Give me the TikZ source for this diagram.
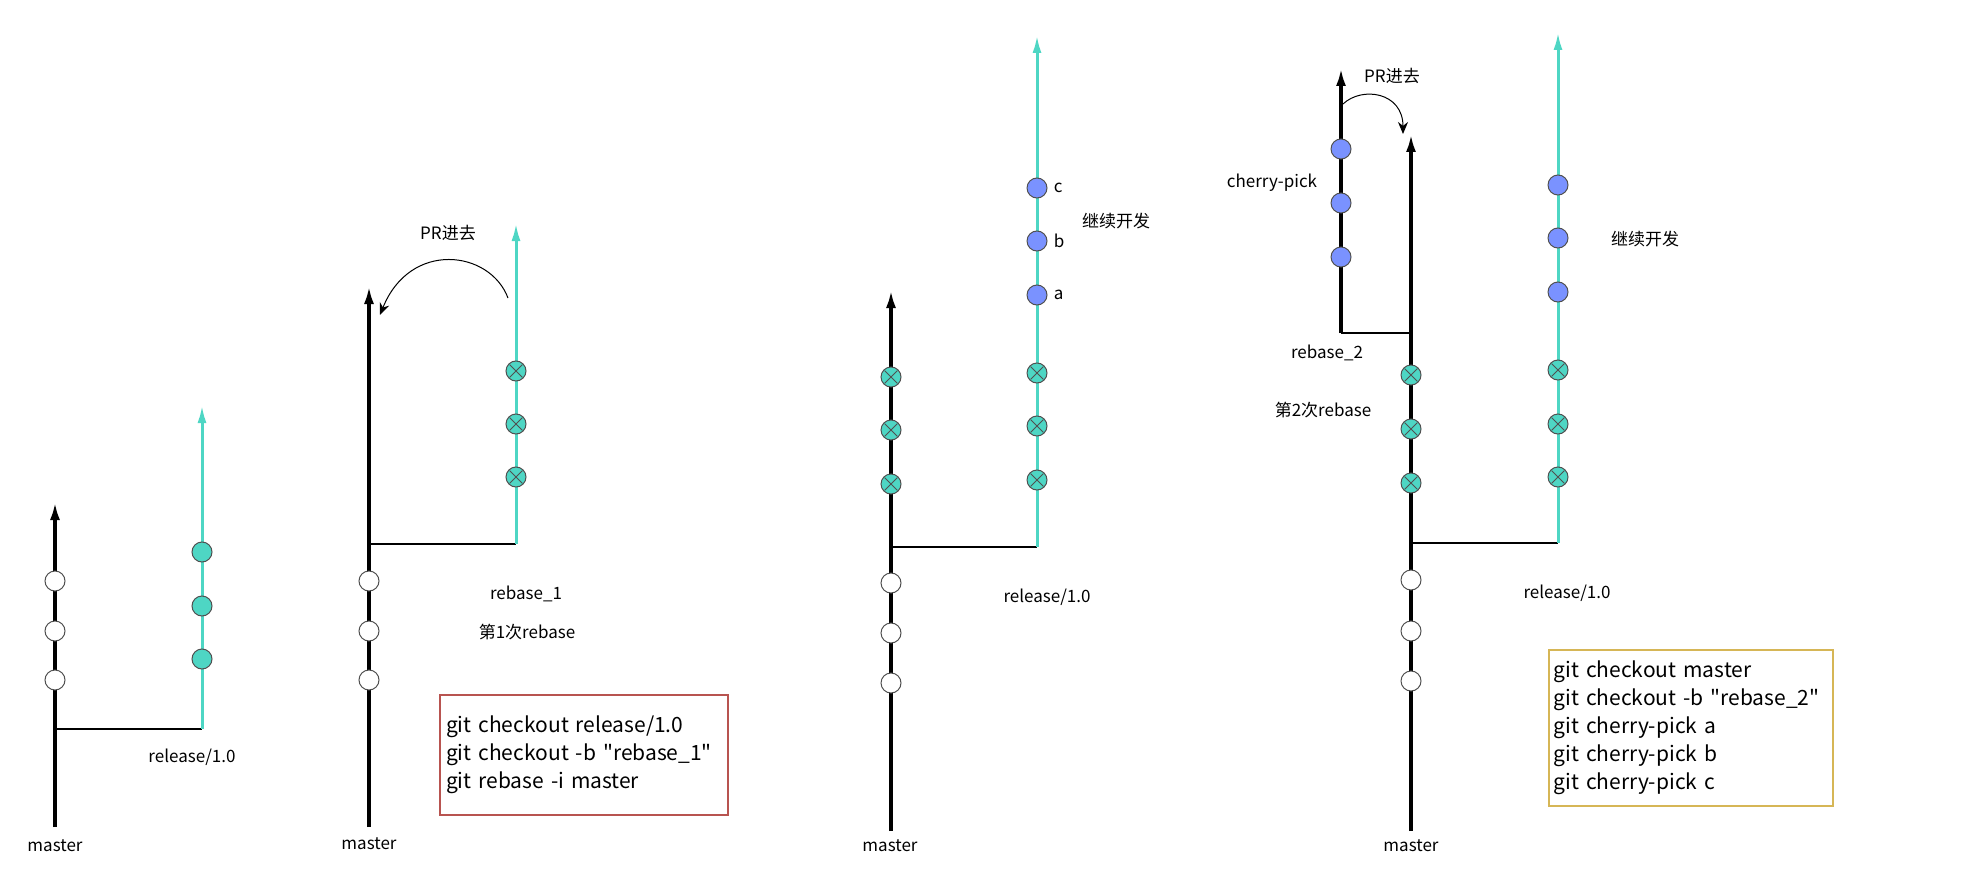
\documentclass[tikz,border=0pt]{standalone}
\usepackage{fontspec}
\newfontfamily\zhfont{Noto Sans CJK SC}
\usetikzlibrary{arrows.meta,positioning}
\definecolor{tealc}{RGB}{78,214,196}
\definecolor{bluec}{RGB}{122,146,255}
\definecolor{redc}{RGB}{184,84,80}
\definecolor{goldc}{RGB}{214,182,86}
\definecolor{rimc}{RGB}{80,80,80}

\begin{document}
\begin{tikzpicture}[x=0.5pt,y=-0.5pt]

\tikzset{
  master/.style={line width=1.7pt,-{Latex[length=9pt,width=5pt]}},
  release/.style={tealc,line width=1.5pt,-{Latex[length=9pt,width=4.5pt]}},
  fork/.style={line width=0.6pt},
  pr/.style={line width=0.5pt,-{Stealth[length=6pt,width=5pt]}},
  cmt/.style={circle,draw=rimc,line width=0.5pt,minimum size=10pt,inner sep=0pt},
  oldcmt/.style={cmt,fill=white},
  relcmt/.style={cmt,fill=tealc},
  devcmt/.style={cmt,fill=bluec},
  pickcmt/.style={cmt,fill=tealc,path picture={
    \draw[line width=0.5pt] ([shift={(-3.2pt,-3.2pt)}]path picture bounding box.center) -- ([shift={(3.2pt,3.2pt)}]path picture bounding box.center)
      ([shift={(-3.2pt,3.2pt)}]path picture bounding box.center) -- ([shift={(3.2pt,-3.2pt)}]path picture bounding box.center);}},
  lbl/.style={font=\zhfont\fontsize{8.5}{10}\selectfont,inner sep=1pt},
  cmdbox/.style={draw,line width=1pt,fill=white,align=left,inner xsep=3pt,
    font=\zhfont\fontsize{10.5}{14}\selectfont}
}
\useasboundingbox (0,0) rectangle (1966,883);

\coordinate (m1b) at (55,827);
\coordinate (m1t) at (55,502);
\coordinate (f1) at (55,729);
\coordinate (r1b) at (202,729);
\coordinate (r1t) at (202,405);
\draw[master] (m1b) -- (m1t);
\draw[fork] (f1) -- (r1b);
\draw[release] (r1b) -- (r1t);
\foreach \y [count=\i] in {581,631,680} \node[oldcmt] (o1\i) at (55,\y) {};
\foreach \y [count=\i] in {552,606,659} \node[relcmt] (n1\i) at (202,\y) {};
\node[lbl] (mst1) at (55,846) {master};
\node[lbl] (rel1) at (192,757) {release/1.0};

\coordinate (m2b) at (369,827);
\coordinate (m2t) at (369,286);
\coordinate (f2) at (369,544);
\coordinate (r2b) at (516,544);
\coordinate (r2t) at (516,223);
\draw[master] (m2b) -- (m2t);
\draw[fork] (f2) -- (r2b);
\draw[release] (r2b) -- (r2t);
\foreach \y [count=\i] in {581,631,680} \node[oldcmt] (o2\i) at (369,\y) {};
\foreach \y [count=\i] in {371,424,477} \node[pickcmt] (p2\i) at (516,\y) {};
\coordinate (pr2s) at (508,298);
\coordinate (pr2e) at (380,315);
\draw[pr] (pr2s) .. controls (490,250) and (410,240) .. (pr2e);
\node[lbl] (prl2) at (448,233) {PR进去};
\node[lbl] (mst2) at (369,844) {master};
\node[lbl] (rb1) at (526,594) {rebase\_1};
\node[lbl] (nth1) at (527,632) {第1次rebase};
\node[cmdbox,draw=redc,minimum height=60pt,text width=138pt] (cmd1) at (584,755)
  {git checkout release/1.0\\git checkout -b "rebase\_1"\\git rebase -i master};

\coordinate (m3b) at (891,831);
\coordinate (m3t) at (891,290);
\coordinate (f3) at (891,547);
\coordinate (r3b) at (1037,547);
\coordinate (r3t) at (1037,35);
\draw[master] (m3b) -- (m3t);
\draw[fork] (f3) -- (r3b);
\draw[release] (r3b) -- (r3t);
\foreach \y [count=\i] in {583,633,683} \node[oldcmt] (o3\i) at (891,\y) {};
\foreach \y [count=\i] in {377,430,484} \node[pickcmt] (q3\i) at (891,\y) {};
\foreach \y [count=\i] in {373,426,480} \node[pickcmt] (p3\i) at (1037,\y) {};
\node[devcmt] (d3a) at (1037,295) {};
\node[devcmt] (d3b) at (1037,241) {};
\node[devcmt] (d3c) at (1037,188) {};
\node[lbl,right=2pt of d3a] (lta) {a};
\node[lbl,right=2pt of d3b] (ltb) {b};
\node[lbl,right=2pt of d3c] (ltc) {c};
\node[lbl] (dev3) at (1116,221) {继续开发};
\node[lbl] (rel3) at (1047,597) {release/1.0};
\node[lbl] (mst3) at (890,846) {master};

\coordinate (m4b) at (1411,831);
\coordinate (m4t) at (1411,134);
\coordinate (k4) at (1411,333);
\coordinate (k4c) at (1341,333);
\coordinate (k4t) at (1341,68);
\coordinate (f4) at (1411,543);
\coordinate (r4b) at (1558,543);
\coordinate (r4t) at (1558,32);
\draw[master] (m4b) -- (m4t);
\draw[fork] (k4) -- (k4c);
\draw[master] (k4c) -- (k4t);
\draw[fork] (f4) -- (r4b);
\draw[release] (r4b) -- (r4t);
\foreach \y [count=\i] in {580,631,681} \node[oldcmt] (o4\i) at (1411,\y) {};
\foreach \y [count=\i] in {375,429,483} \node[pickcmt] (q4\i) at (1411,\y) {};
\foreach \y [count=\i] in {257,203,149} \node[devcmt] (c4\i) at (1341,\y) {};
\foreach \y [count=\i] in {292,238,185} \node[devcmt] (d4\i) at (1558,\y) {};
\foreach \y [count=\i] in {370,424,477} \node[pickcmt] (p4\i) at (1558,\y) {};
\coordinate (pr4s) at (1343,104);
\coordinate (pr4e) at (1403,134);
\draw[pr] (pr4s) .. controls (1362,86) and (1403,92) .. (pr4e);
\node[lbl] (prl4) at (1392,76) {PR进去};
\node[lbl] (chp4) at (1272,183) {cherry-pick};
\node[lbl] (rb2) at (1327,353) {rebase\_2};
\node[lbl] (nth2) at (1323,410) {第2次rebase};
\node[lbl] (dev4) at (1645,239) {继续开发};
\node[lbl] (rel4) at (1567,593) {release/1.0};
\node[lbl] (mst4) at (1411,846) {master};
\node[cmdbox,draw=goldc,minimum height=78pt,text width=137pt,inner xsep=2.5pt] (cmd2) at (1690.5,728)
  {git checkout master\\git checkout -b "rebase\_2"\\git cherry-pick a\\git cherry-pick b\\git cherry-pick c};

\end{tikzpicture}
\end{document}
